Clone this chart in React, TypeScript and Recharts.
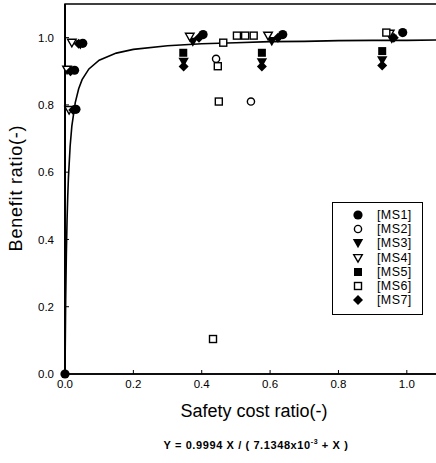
import React from 'react';
import { ScatterChart, Scatter, XAxis, YAxis, ReferenceArea } from 'recharts';

type Pt = { x: number; y: number };

// fitted curve
const curveX = [0, 0.002, 0.004, 0.006, 0.008, 0.01, 0.015, 0.02, 0.03, 0.04, 0.05, 0.07, 0.1, 0.15, 0.2, 0.3, 0.4, 0.5, 0.6, 0.7, 0.8, 0.9, 1.0, 1.1];
const curveY = [0, 0.219, 0.359, 0.457, 0.528, 0.583, 0.677, 0.737, 0.807, 0.848, 0.875, 0.907, 0.933, 0.954, 0.965, 0.976, 0.982, 0.985, 0.988, 0.989, 0.991, 0.992, 0.992, 0.993];

const ms1: Pt[] = [
  { x: 0, y: 0 }, { x: 0.032, y: 0.787 }, { x: 0.028, y: 0.903 }, { x: 0.052, y: 0.983 },
  { x: 0.404, y: 1.009 }, { x: 0.637, y: 1.009 }, { x: 0.988, y: 1.015 },
];
const ms2: Pt[] = [
  { x: 0.442, y: 0.937 }, { x: 0.544, y: 0.81 },
];
const ms3: Pt[] = [
  { x: 0.045, y: 0.98 }, { x: 0.347, y: 0.928 }, { x: 0.374, y: 0.988 },
  { x: 0.576, y: 0.927 }, { x: 0.605, y: 0.99 }, { x: 0.928, y: 0.933 }, { x: 0.956, y: 0.997 },
];
const ms4: Pt[] = [
  { x: 0.012, y: 0.785 }, { x: 0.006, y: 0.905 }, { x: 0.02, y: 0.985 },
  { x: 0.365, y: 1.003 }, { x: 0.594, y: 1.006 }, { x: 0.95, y: 1.012 },
];
const ms5: Pt[] = [
  { x: 0.346, y: 0.955 }, { x: 0.576, y: 0.955 }, { x: 0.928, y: 0.96 },
];
const ms6: Pt[] = [
  { x: 0.433, y: 0.104 }, { x: 0.45, y: 0.81 }, { x: 0.447, y: 0.915 }, { x: 0.463, y: 0.985 },
  { x: 0.503, y: 1.006 }, { x: 0.527, y: 1.006 }, { x: 0.552, y: 1.006 }, { x: 0.94, y: 1.015 },
];
const ms7: Pt[] = [
  { x: 0.024, y: 0.785 }, { x: 0.016, y: 0.9 }, { x: 0.04, y: 0.982 },
  { x: 0.347, y: 0.914 }, { x: 0.392, y: 1.0 }, { x: 0.576, y: 0.914 }, { x: 0.623, y: 1.0 },
  { x: 0.928, y: 0.917 }, { x: 0.962, y: 1.0 },
];

const xTicks = [0, 0.2, 0.4, 0.6, 0.8, 1.0];
const yTicks = [0, 0.2, 0.4, 0.6, 0.8, 1.0];
const seriesNames = ['[MS1]', '[MS2]', '[MS3]', '[MS4]', '[MS5]', '[MS6]', '[MS7]'];
const seriesKinds = ['circleF', 'circleO', 'triF', 'triO', 'sqF', 'sqO', 'diaF'];

const curve: Pt[] = curveX.map((x, i) => ({ x, y: curveY[i] }));
const seriesData = [ms1, ms2, ms3, ms4, ms5, ms6, ms7];

function Marker({ cx, cy, kind }: { cx: number; cy: number; kind: string }) {
  const sw = 1.4;
  switch (kind) {
    case 'circleF':
      return <circle cx={cx} cy={cy} r={4.6} fill="#000" />;
    case 'circleO':
      return <circle cx={cx} cy={cy} r={3.6} fill="#fff" stroke="#000" strokeWidth={sw} />;
    case 'triF':
      return <polygon points={`${cx - 5.2},${cy - 4} ${cx + 5.2},${cy - 4} ${cx},${cy + 5.2}`} fill="#000" />;
    case 'triO':
      return <polygon points={`${cx - 4.3},${cy - 3.4} ${cx + 4.3},${cy - 3.4} ${cx},${cy + 4.2}`} fill="#fff" stroke="#000" strokeWidth={sw} />;
    case 'sqF':
      return <rect x={cx - 4} y={cy - 4} width={8} height={8} fill="#000" />;
    case 'sqO':
      return <rect x={cx - 3.5} y={cy - 3.5} width={7} height={7} fill="#fff" stroke="#000" strokeWidth={sw} />;
    case 'diaF':
      return <polygon points={`${cx},${cy - 5} ${cx + 5},${cy} ${cx},${cy + 5} ${cx - 5},${cy}`} fill="#000" />;
    default:
      return <g />;
  }
}

const font = 'Arial, "Liberation Sans", Helvetica, sans-serif';

export default function App() {
  return (
    <div
      style={{
        position: 'absolute', left: 0, top: 0, width: 436, height: 463,
        overflow: 'hidden', background: '#fff', fontFamily: font,
      }}
    >
      <ScatterChart width={446} height={463} margin={{ top: 4, right: 5, bottom: 0, left: 0 }}>
        <XAxis
          type="number" dataKey="x" domain={[0, 1.1]} ticks={xTicks} height={89}
          tickFormatter={(v: number) => v.toFixed(1)}
          tick={{ fontSize: 11.5, fill: '#000', fontFamily: font }}
          tickSize={-4} tickMargin={10}
          axisLine={{ stroke: '#000', strokeWidth: 1.5 }}
          tickLine={{ stroke: '#000' }}
        />
        <YAxis
          type="number" dataKey="y" domain={[0, 1.1]} ticks={yTicks} width={65}
          tickFormatter={(v: number) => v.toFixed(1)}
          tick={{ fontSize: 11.5, fill: '#000', fontFamily: font }}
          tickSize={-4} tickMargin={15}
          axisLine={{ stroke: '#000', strokeWidth: 2 }}
          tickLine={{ stroke: '#000' }}
        />
        <ReferenceArea x1={0} x2={1.1} y1={0} y2={1.1} fill="none" stroke="#000" strokeWidth={1.5} ifOverflow="visible" />
        <Scatter
          data={curve} isAnimationActive={false}
          line={{ stroke: '#000', strokeWidth: 1.6 }}
          shape={() => <g />}
        />
        {seriesData.map((d, i) => (
          <Scatter
            key={seriesNames[i]}
            name={seriesNames[i]}
            data={d}
            isAnimationActive={false}
            shape={(p: any) => <Marker cx={p.cx} cy={p.cy} kind={seriesKinds[i]} />}
          />
        ))}
      </ScatterChart>

      {/* legend */}
      <div
        style={{
          position: 'absolute', left: 332, top: 202, width: 89, height: 111,
          border: '1px solid #000', background: '#fff',
        }}
      >
        {seriesNames.map((n, i) => (
          <div key={n} style={{ position: 'absolute', left: 0, top: 5 + i * 14.2, height: 14, width: 89 }}>
            <svg width={14} height={14} style={{ position: 'absolute', left: 18, top: 0 }}>
              <Marker cx={7} cy={7} kind={seriesKinds[i]} />
            </svg>
            <span
              style={{
                position: 'absolute', left: 44, top: 0, fontSize: 12.5, lineHeight: '14px', letterSpacing: 0.4,
                fontFamily: font, color: '#000', whiteSpace: 'nowrap',
              }}
            >
              {n}
            </span>
          </div>
        ))}
      </div>

      {/* axis titles */}
      <div
        style={{
          position: 'absolute', left: 254, top: 411, transform: 'translate(-50%, -50%)',
          fontSize: 18, whiteSpace: 'nowrap', color: '#000', fontFamily: font,
        }}
      >
        Safety cost ratio(-)
      </div>
      <div
        style={{
          position: 'absolute', left: 16, top: 188, transform: 'translate(-50%, -50%) rotate(-90deg)',
          fontSize: 18, letterSpacing: 0.8, whiteSpace: 'nowrap', color: '#000', fontFamily: font,
        }}
      >
        Benefit ratio(-)
      </div>
      <div
        style={{
          position: 'absolute', left: 256, top: 445, transform: 'translate(-50%, -50%)',
          fontSize: 11, fontWeight: 'bold', letterSpacing: 0.6, whiteSpace: 'nowrap', color: '#000', fontFamily: font,
        }}
      >
        Y = 0.9994 X / ( 7.1348x10<sup style={{ fontSize: 7, verticalAlign: 'super', lineHeight: 0 }}>-3</sup> + X )
      </div>
    </div>
  );
}
